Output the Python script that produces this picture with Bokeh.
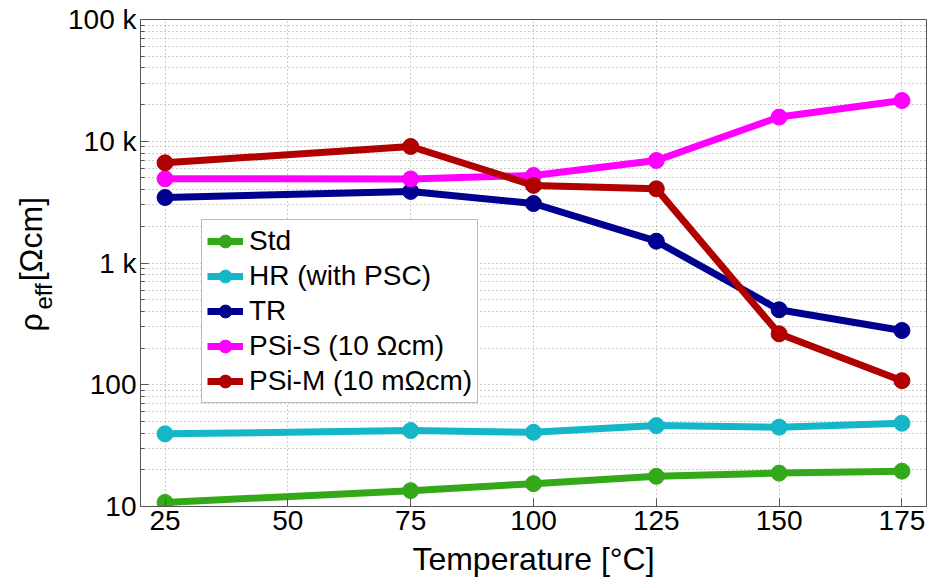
import numpy as np
from bokeh.plotting import figure
from bokeh.models import Range1d, FixedTicker, Label, Legend
from bokeh.embed import file_html
from bokeh.resources import INLINE

# ---------------- data ----------------
temperature = [25, 75, 100, 125, 150, 175]
std = [10.8, 13.5, 15.4, 17.7, 18.8, 19.5]
hr = [39.5, 42.0, 40.7, 46.2, 44.8, 48.3]
tr = [3450, 3870, 3080, 1510, 413, 279]
psi_s = [4920, 4900, 5240, 6950, 15800, 21600]
psi_m = [6650, 9060, 4340, 4070, 262, 108]

series_names = ["Std", "HR (with PSC)", "TR", "PSi-S (10 Ωcm)", "PSi-M (10 mΩcm)"]
series_values = [std, hr, tr, psi_s, psi_m]
series_colors = ["#33a91a", "#14b6c8", "#000090", "#ff00ff", "#b00000"]

x_ticks = [25, 50, 75, 100, 125, 150, 175]
y_ticks = [10, 100, 1000, 10000, 100000]
y_tick_labels = ["10", "100", "1 k", "10 k", "100 k"]
x_title = "Temperature [°C]"
y_title_main = "ρ\u2003[Ωcm]"
y_title_sub = "eff"

FONT = "Liberation Sans"
W, H = 930, 577
L, R, T, B = 140, 4, 19, 71

p = figure(width=W, height=H, y_axis_type="log",
           x_range=Range1d(20, 180), y_range=Range1d(10, 1e5),
           output_backend="svg", toolbar_location=None,
           min_border_left=L, min_border_right=R, min_border_top=T, min_border_bottom=B)
p.background_fill_color = "white"
p.border_fill_color = "white"
p.outline_line_color = "#555555"
p.outline_line_width = 1

minor = [m * d for d in [10, 100, 1000, 10000] for m in range(2, 10)]

# axes styling
xa = p.xaxis[0]
xa.ticker = FixedTicker(ticks=x_ticks)
ya = p.yaxis[0]
ya.ticker = FixedTicker(ticks=y_ticks, minor_ticks=minor)
ya.major_label_overrides = {t: s for t, s in zip(y_ticks, y_tick_labels)}
for ax in (xa, ya):
    ax.major_tick_in = 8
    ax.major_tick_out = 0
    ax.minor_tick_in = 4
    ax.minor_tick_out = 0
    ax.axis_line_color = "#555555"
    ax.major_tick_line_color = "#555555"
    ax.minor_tick_line_color = "#555555"
    ax.major_label_text_font = FONT
    ax.major_label_text_font_size = "28px"
    ax.major_label_text_color = "black"
xa.major_label_standoff = 4
ya.major_label_standoff = 4

# grids
p.xgrid.grid_line_color = "#999999"
p.xgrid.grid_line_dash = "1 3"
p.ygrid.grid_line_color = "#999999"
p.ygrid.grid_line_dash = "1 3"
p.ygrid.minor_grid_line_color = "#999999"
p.ygrid.minor_grid_line_dash = "1 3"

# series
items = []
for name, vals, col in zip(series_names, series_values, series_colors):
    r1 = p.line(temperature, vals, line_color=col, line_width=7)
    r2 = p.scatter(temperature, vals, marker="circle", size=16, fill_color=col, line_color=col)
    items.append((name, [r1, r2]))

legend = Legend(items=items, location=(61, 103))
legend.label_text_font = FONT
legend.label_text_font_size = "28px"
legend.label_text_color = "black"
legend.glyph_width = 36
legend.glyph_height = 32
legend.label_height = 32
legend.spacing = 3
legend.padding = 5
legend.margin = 0
legend.label_standoff = 6
legend.border_line_color = "#777777"
legend.border_line_width = 1
legend.background_fill_color = "white"
legend.background_fill_alpha = 1
p.add_layout(legend)

# axis titles: labels placed in the side panels (pixel -> data conversion)
def xd(px):
    return 20 + (px - L) * 160 / (W - L - R)

def yd(py):
    return 10 ** (1 + (H - B - py) * 4 / (H - B - T))

def title(text, px, py, size, side, angle=0.0, align="left"):
    p.add_layout(Label(x=xd(px), y=yd(py), text=text, text_font=FONT,
                       text_font_size=size, angle=angle, text_align=align,
                       text_baseline="alphabetic", text_color="black"), side)

title(x_title, 533, 558, "32px", "below", align="center")
title(y_title_sub, 43, 309, "24px", "left", angle=np.pi / 2)
title(y_title_main, 30, 331, "32px", "left", angle=np.pi / 2)

open("out.html", "w").write(file_html(p, INLINE))
